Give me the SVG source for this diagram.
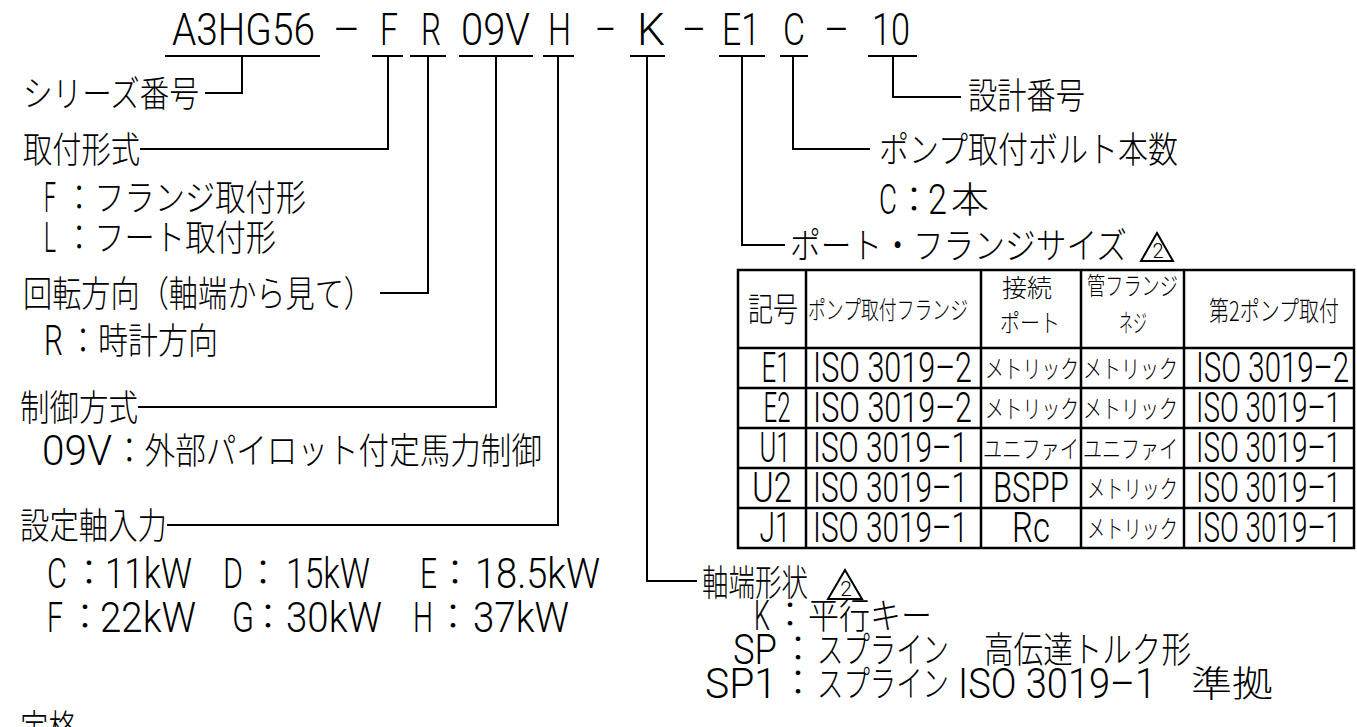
<svg xmlns="http://www.w3.org/2000/svg" width="1357" height="727" viewBox="0 0 1357 727">
<style>
text { fill:#000; }
.L { font-family:"Roboto", "Liberation Sans", "Noto Sans CJK JP", sans-serif; font-weight:300; }
.J { font-family:"Noto Sans CJK JP", "Liberation Sans", sans-serif; font-weight:300; }
.ttl { font-size:45px; }
.big { font-size:36px; }
.lat { font-size:43px; }
.hd { font-size:25px; }
.cell { font-size:42px; }
.sm { font-size:25px; }
.ln { stroke:#000; stroke-width:2; fill:none; }
.tb { stroke:#000; stroke-width:2.5; fill:none; }
.tri { stroke:#000; stroke-width:2; fill:none; stroke-linejoin:miter; }
</style>
<g id="title">
<text class="L ttl" x="172" y="45" textLength="143" lengthAdjust="spacingAndGlyphs">A3HG56</text>
<text class="L ttl" x="333" y="45" textLength="27" lengthAdjust="spacingAndGlyphs">–</text>
<text class="L ttl" x="380" y="45" textLength="18" lengthAdjust="spacingAndGlyphs">F</text>
<text class="L ttl" x="421" y="45" textLength="20" lengthAdjust="spacingAndGlyphs">R</text>
<text class="L ttl" x="461" y="45" textLength="69" lengthAdjust="spacingAndGlyphs">09V</text>
<text class="L ttl" x="548" y="45" textLength="23" lengthAdjust="spacingAndGlyphs">H</text>
<text class="L ttl" x="595" y="45" textLength="21" lengthAdjust="spacingAndGlyphs">–</text>
<text class="L ttl" x="637" y="45" textLength="28" lengthAdjust="spacingAndGlyphs">K</text>
<text class="L ttl" x="682" y="45" textLength="24" lengthAdjust="spacingAndGlyphs">–</text>
<text class="L ttl" x="722" y="45" textLength="38" lengthAdjust="spacingAndGlyphs">E1</text>
<text class="L ttl" x="783" y="45" textLength="22" lengthAdjust="spacingAndGlyphs">C</text>
<text class="L ttl" x="824" y="45" textLength="25" lengthAdjust="spacingAndGlyphs">–</text>
<text class="L ttl" x="872" y="45" textLength="38" lengthAdjust="spacingAndGlyphs">10</text>
</g>
<g id="connectors">
<path class="ln" d="M165,56 H320 M372,56 H403 M410,56 H446 M459,56 H533 M543,56 H574 M630,56 H665 M719,56 H765 M780,56 H808 M868,56 H917"/>
<path class="ln" d="M242,56 V93 H205"/>
<path class="ln" d="M388,56 V149 H140"/>
<path class="ln" d="M428,56 V293 H380"/>
<path class="ln" d="M496,56 V407 H138"/>
<path class="ln" d="M558,56 V525 H167"/>
<path class="ln" d="M647,56 V581 H697"/>
<path class="ln" d="M742,56 V245 H785"/>
<path class="ln" d="M793,56 V149 H870"/>
<path class="ln" d="M893,56 V97 H961"/>
</g>
<g id="series">
<text class="J big" x="23" y="107" textLength="176" lengthAdjust="spacingAndGlyphs">シリーズ番号</text>
</g>
<g id="mounting">
<text class="J big" x="23" y="163" textLength="117" lengthAdjust="spacingAndGlyphs">取付形式</text>
<text class="L lat" x="44" y="212" textLength="12" lengthAdjust="spacingAndGlyphs">F</text>
<text class="J big" x="64" y="211" textLength="242" lengthAdjust="spacingAndGlyphs">：フランジ取付形</text>
<text class="L lat" x="44" y="252" textLength="12" lengthAdjust="spacingAndGlyphs">L</text>
<text class="J big" x="64" y="251" textLength="212" lengthAdjust="spacingAndGlyphs">：フート取付形</text>
</g>
<g id="rotation">
<text class="J big" x="23" y="307" textLength="350" lengthAdjust="spacingAndGlyphs">回転方向（軸端から見て）</text>
<text class="L lat" x="44" y="355" textLength="19" lengthAdjust="spacingAndGlyphs">R</text>
<text class="J big" x="68" y="354" textLength="150" lengthAdjust="spacingAndGlyphs">：時計方向</text>
</g>
<g id="control">
<text class="J big" x="20" y="421" textLength="118" lengthAdjust="spacingAndGlyphs">制御方式</text>
<text class="L lat" x="42" y="465" textLength="70" lengthAdjust="spacingAndGlyphs">09V</text>
<text class="J big" x="114" y="464" textLength="428" lengthAdjust="spacingAndGlyphs">：外部パイロット付定馬力制御</text>
</g>
<g id="power">
<text class="J big" x="20" y="539" textLength="147" lengthAdjust="spacingAndGlyphs">設定軸入力</text>
<text class="L lat" x="47" y="588" textLength="20" lengthAdjust="spacingAndGlyphs">C</text>
<text class="J big" x="89" y="586" text-anchor="middle">：</text>
<text class="L lat" x="105" y="588" textLength="87" lengthAdjust="spacingAndGlyphs">11kW</text>
<text class="L lat" x="223" y="588" textLength="20" lengthAdjust="spacingAndGlyphs">D</text>
<text class="J big" x="263" y="586" text-anchor="middle">：</text>
<text class="L lat" x="286" y="588" textLength="84" lengthAdjust="spacingAndGlyphs">15kW</text>
<text class="L lat" x="420" y="588" textLength="17" lengthAdjust="spacingAndGlyphs">E</text>
<text class="J big" x="455" y="586" text-anchor="middle">：</text>
<text class="L lat" x="475" y="588" textLength="125" lengthAdjust="spacingAndGlyphs">18.5kW</text>
<text class="L lat" x="47" y="632" textLength="16" lengthAdjust="spacingAndGlyphs">F</text>
<text class="J big" x="85" y="630" text-anchor="middle">：</text>
<text class="L lat" x="100" y="632" textLength="96" lengthAdjust="spacingAndGlyphs">22kW</text>
<text class="L lat" x="232" y="632" textLength="22" lengthAdjust="spacingAndGlyphs">G</text>
<text class="J big" x="268" y="630" text-anchor="middle">：</text>
<text class="L lat" x="286" y="632" textLength="96" lengthAdjust="spacingAndGlyphs">30kW</text>
<text class="L lat" x="413" y="632" textLength="20" lengthAdjust="spacingAndGlyphs">H</text>
<text class="J big" x="453" y="630" text-anchor="middle">：</text>
<text class="L lat" x="473" y="632" textLength="96" lengthAdjust="spacingAndGlyphs">37kW</text>
</g>
<g id="rating">
<text class="J big" x="20" y="741" textLength="57" lengthAdjust="spacingAndGlyphs">定格</text>
</g>
<g id="design">
<text class="J big" x="968" y="109" textLength="117" lengthAdjust="spacingAndGlyphs">設計番号</text>
</g>
<g id="bolts">
<text class="J big" x="879" y="163" textLength="299" lengthAdjust="spacingAndGlyphs">ポンプ取付ボルト本数</text>
<text class="L lat" x="879" y="214" textLength="18" lengthAdjust="spacingAndGlyphs">C</text>
<text class="J big" x="914" y="213" text-anchor="middle">：</text>
<text class="L lat" x="928" y="214" textLength="19" lengthAdjust="spacingAndGlyphs">2</text>
<text class="J big" x="951" y="213" textLength="38" lengthAdjust="spacingAndGlyphs">本</text>
</g>
<g id="port">
<text class="J big" x="790" y="259" textLength="337" lengthAdjust="spacingAndGlyphs">ポート・フランジサイズ</text>
<polygon class="tri" points="1157,233 1141,261 1173,261"/>
<text class="L" x="1158" y="258" font-size="20" text-anchor="middle">2</text>
</g>
<g id="table">
<rect class="tb" x="738" y="270" width="616" height="278"/>
<path class="tb" d="M738,348 H1354 M738,388 H1354 M738,428 H1354 M738,468 H1354 M738,508 H1354 M806,270 V548 M981,270 V548 M1081,270 V548 M1184,270 V548"/>
<text class="J" x="748" y="321" font-size="33" textLength="50" lengthAdjust="spacingAndGlyphs">記号</text>
<text class="J hd" x="808" y="319" textLength="160" lengthAdjust="spacingAndGlyphs">ポンプ取付フランジ</text>
<text class="J hd" x="1002" y="297" textLength="50" lengthAdjust="spacingAndGlyphs">接続</text>
<text class="J hd" x="1000" y="332" textLength="60" lengthAdjust="spacingAndGlyphs">ポート</text>
<text class="J hd" x="1087" y="295" textLength="91" lengthAdjust="spacingAndGlyphs">管フランジ</text>
<text class="J hd" x="1119" y="332" textLength="28" lengthAdjust="spacingAndGlyphs">ネジ</text>
<text class="J" x="1209" y="321" font-size="27" textLength="130" lengthAdjust="spacingAndGlyphs">第2ポンプ取付</text>
<text class="L cell" x="776" y="382" text-anchor="middle" textLength="29" lengthAdjust="spacingAndGlyphs">E1</text>
<text class="L cell" x="813" y="382" textLength="159" lengthAdjust="spacingAndGlyphs">ISO 3019–2</text>
<text class="J sm" x="985" y="378" textLength="94" lengthAdjust="spacingAndGlyphs">メトリック</text>
<text class="J sm" x="1083" y="378" textLength="95" lengthAdjust="spacingAndGlyphs">メトリック</text>
<text class="L cell" x="1196" y="382" textLength="153" lengthAdjust="spacingAndGlyphs">ISO 3019–2</text>
<text class="L cell" x="777" y="422" text-anchor="middle" textLength="27" lengthAdjust="spacingAndGlyphs">E2</text>
<text class="L cell" x="813" y="422" textLength="159" lengthAdjust="spacingAndGlyphs">ISO 3019–2</text>
<text class="J sm" x="985" y="418" textLength="94" lengthAdjust="spacingAndGlyphs">メトリック</text>
<text class="J sm" x="1083" y="418" textLength="95" lengthAdjust="spacingAndGlyphs">メトリック</text>
<text class="L cell" x="1196" y="422" textLength="145" lengthAdjust="spacingAndGlyphs">ISO 3019–1</text>
<text class="L cell" x="775" y="462" text-anchor="middle" textLength="31" lengthAdjust="spacingAndGlyphs">U1</text>
<text class="L cell" x="813" y="462" textLength="155" lengthAdjust="spacingAndGlyphs">ISO 3019–1</text>
<text class="J sm" x="983" y="458" textLength="96" lengthAdjust="spacingAndGlyphs">ユニファイ</text>
<text class="J sm" x="1083" y="458" textLength="95" lengthAdjust="spacingAndGlyphs">ユニファイ</text>
<text class="L cell" x="1196" y="462" textLength="145" lengthAdjust="spacingAndGlyphs">ISO 3019–1</text>
<text class="L cell" x="772" y="502" text-anchor="middle" textLength="40" lengthAdjust="spacingAndGlyphs">U2</text>
<text class="L cell" x="813" y="502" textLength="155" lengthAdjust="spacingAndGlyphs">ISO 3019–1</text>
<text class="L cell" x="993" y="502" textLength="76" lengthAdjust="spacingAndGlyphs">BSPP</text>
<text class="J sm" x="1087" y="498" textLength="91" lengthAdjust="spacingAndGlyphs">メトリック</text>
<text class="L cell" x="1196" y="502" textLength="145" lengthAdjust="spacingAndGlyphs">ISO 3019–1</text>
<text class="L cell" x="775" y="542" text-anchor="middle" textLength="31" lengthAdjust="spacingAndGlyphs">J1</text>
<text class="L cell" x="813" y="542" textLength="155" lengthAdjust="spacingAndGlyphs">ISO 3019–1</text>
<text class="L cell" x="1012" y="542" textLength="38" lengthAdjust="spacingAndGlyphs">Rc</text>
<text class="J sm" x="1087" y="538" textLength="91" lengthAdjust="spacingAndGlyphs">メトリック</text>
<text class="L cell" x="1196" y="542" textLength="145" lengthAdjust="spacingAndGlyphs">ISO 3019–1</text>
</g>
<g id="shaft">
<text class="J big" x="702" y="596" textLength="106" lengthAdjust="spacingAndGlyphs">軸端形状</text>
<polygon class="tri" points="845,570 828,599 862,599"/>
<text class="L" x="846" y="596" font-size="21" text-anchor="middle">2</text>
<text class="L lat" x="754" y="630" textLength="16" lengthAdjust="spacingAndGlyphs">K</text>
<text class="J big" x="790" y="628" text-anchor="middle">：</text>
<text class="J big" x="808" y="629" textLength="124" lengthAdjust="spacingAndGlyphs">平行キー</text>
<text class="L lat" x="733" y="664" textLength="44" lengthAdjust="spacingAndGlyphs">SP</text>
<text class="J big" x="798" y="662" text-anchor="middle">：</text>
<text class="J big" x="817" y="663" textLength="132" lengthAdjust="spacingAndGlyphs">スプライン</text>
<text class="J big" x="984" y="663" textLength="207" lengthAdjust="spacingAndGlyphs">高伝達トルク形</text>
<text class="L lat" x="705" y="698" textLength="72" lengthAdjust="spacingAndGlyphs">SP1</text>
<text class="J big" x="798" y="696" text-anchor="middle">：</text>
<text class="J big" x="817" y="697" textLength="132" lengthAdjust="spacingAndGlyphs">スプライン</text>
<text class="L lat" x="958" y="698" textLength="198" lengthAdjust="spacingAndGlyphs">ISO 3019–1</text>
<text class="J big" x="1191" y="697" textLength="82" lengthAdjust="spacingAndGlyphs">準拠</text>
</g>
</svg>
